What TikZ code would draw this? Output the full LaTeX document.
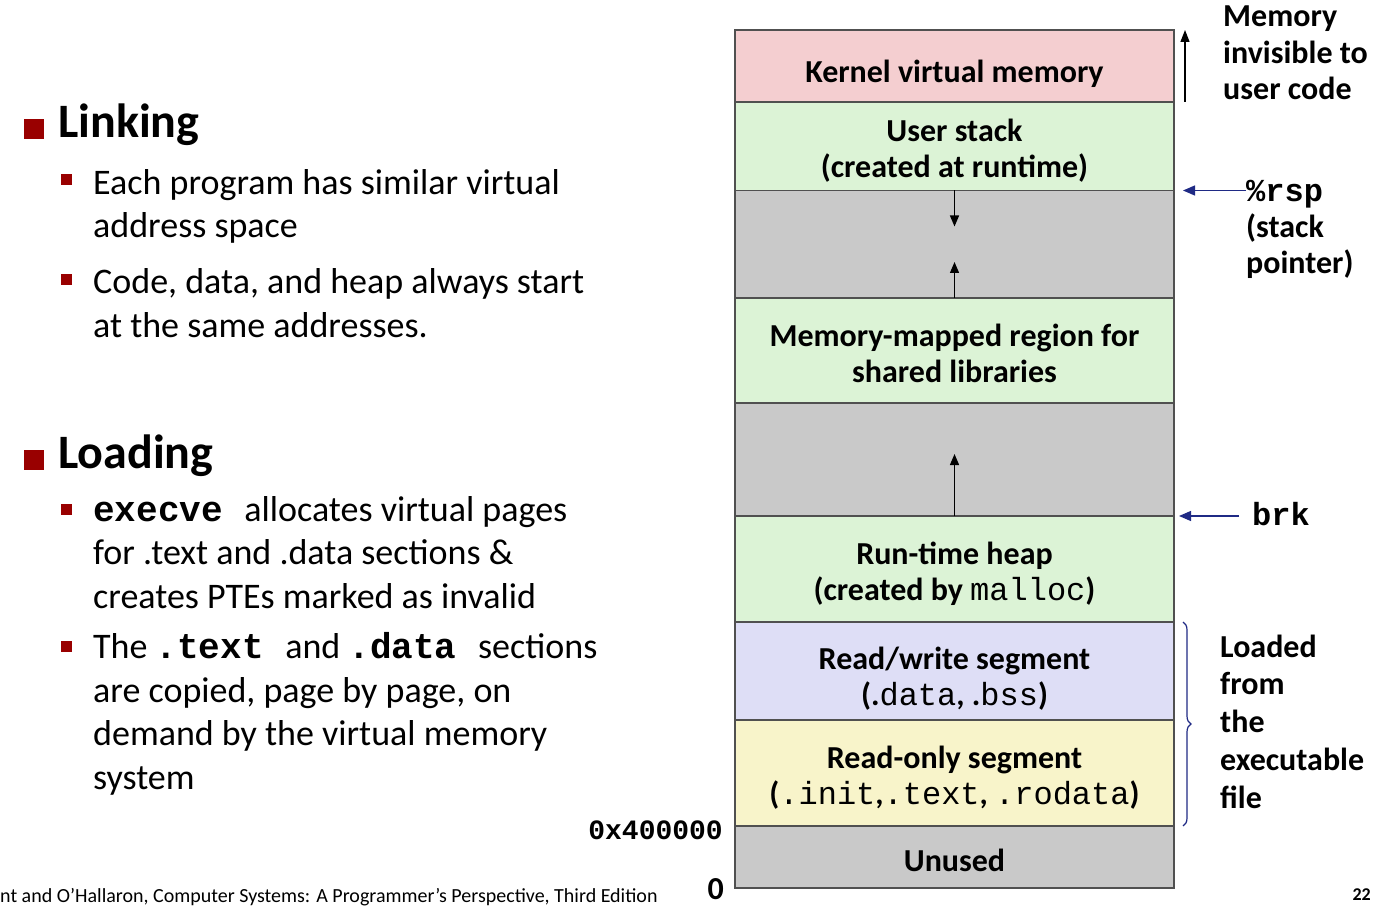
\documentclass[tikz,border=0pt]{standalone}
\usepackage{fontspec}
\setmainfont{Carlito}
\setmonofont{Liberation Mono}
\usetikzlibrary{positioning,arrows.meta,decorations.pathreplacing}

\definecolor{kernelpink}{HTML}{F4CED0}
\definecolor{regiongreen}{HTML}{DCF3D6}
\definecolor{gapgray}{HTML}{C9C9C9}
\definecolor{rwblue}{HTML}{DEDEF6}
\definecolor{royellow}{HTML}{F8F4CA}
\definecolor{bulletred}{HTML}{990000}
\definecolor{ptrblue}{HTML}{1F2A85}
\definecolor{segline}{HTML}{505050}

\newcommand{\boxcode}[1]{{\mdseries\ttfamily #1}}

\begin{document}
\begin{tikzpicture}[x=1pt, y=-1pt,
    seg/.style={draw=segline, line width=1.2pt, minimum width=439pt,
        inner sep=0pt, outer sep=0pt},
    segtext/.style={inner sep=0pt, align=center, anchor=base,
        font=\fontsize{32}{36}\selectfont\bfseries},
    growth/.style={black, line width=1.3pt, -{Triangle[length=11pt,width=9pt]}},
    ptr/.style={ptrblue, line width=1.2pt, -{Triangle[length=12pt,width=10pt]}},
    sidetext/.style={inner sep=0pt, align=left, font=\fontsize{32}{36.5}\selectfont\bfseries},
    headline/.style={inner sep=0pt, font=\fontsize{48}{56}\selectfont\bfseries},
    itemtext/.style={inner sep=0pt, align=left, font=\fontsize{36}{43.5}\selectfont}]

    \path[use as bounding box, fill=white] (0,0) rectangle (1381,909);

    % address space
    \node[seg, fill=kernelpink, minimum height=72pt, anchor=north] (kernel) at (954.5,30) {};
    \node[seg, fill=regiongreen, minimum height=88.5pt, below=0pt of kernel] (ustack) {};
    \node[seg, fill=gapgray, minimum height=107.5pt, below=0pt of ustack] (gapA) {};
    \node[seg, fill=regiongreen, minimum height=105pt, below=0pt of gapA] (mmap) {};
    \node[seg, fill=gapgray, minimum height=113pt, below=0pt of mmap] (gapB) {};
    \node[seg, fill=regiongreen, minimum height=106pt, below=0pt of gapB] (heap) {};
    \node[seg, fill=rwblue, minimum height=98pt, below=0pt of heap] (rwseg) {};
    \node[seg, fill=royellow, minimum height=106pt, below=0pt of rwseg] (roseg) {};
    \node[seg, fill=gapgray, minimum height=62pt, below=0pt of roseg] (unused) {};

    % labels (base anchor = last line)
    \node[segtext] (kerneltext) at (954.5,83) {Kernel virtual memory};
    \node[segtext] (ustacktext) at (954.5,178) {User stack\\(created at runtime)};
    \node[segtext] (mmaptext) at (954.5,382) {Memory-mapped region for\\shared libraries};
    \node[segtext] (heaptext) at (954.5,600) {Run-time heap\\(created by \boxcode{malloc})};
    \node[segtext] (rwtext) at (954.5,705) {Read/write segment\\(.\boxcode{data}, .\boxcode{bss})};
    \node[segtext] (rotext) at (954.5,804) {Read-only segment\\(\boxcode{.init},\boxcode{.text}, \boxcode{.rodata})};
    \node[segtext] (unusedtext) at (954.5,871) {Unused};

    % growth arrows
    \coordinate (stacktip) at ([yshift=-36pt]gapA.north);
    \coordinate (mmaptip) at ([yshift=36pt]gapA.south);
    \coordinate (heaptip) at ([yshift=62pt]gapB.south);
    \draw[growth] (gapA.north) -- (stacktip);
    \draw[growth] (gapA.south) -- (mmaptip);
    \draw[growth] (gapB.south) -- (heaptip);

    % addresses
    \node[inner sep=0pt, anchor=base east, font=\fontsize{28}{30}\selectfont\ttfamily\bfseries] (addr) at (723,839) {0x400000};
    \node[inner sep=0pt, anchor=base east, font=\fontsize{32}{34}\selectfont\bfseries] (zero) at (724,899) {0};

    % right side
    \node[sidetext, anchor=base west] (invisible) at (1223,100) {Memory\\invisible to\\user code};
    \draw[black, line width=1.2pt, -{Triangle[length=12pt,width=9pt]}] ([xshift=11pt]kernel.south east) -- ([xshift=11pt]kernel.north east);

    \node[sidetext, anchor=base west] (rsp) at (1246,274) {\texttt{\%rsp}\\(stack\\pointer)};
    \draw[ptr] (ustack.south east -| rsp.west) -- ([xshift=9pt]ustack.south east);

    \node[sidetext, anchor=base west] (brk) at (1252,525) {\texttt{brk}};
    \draw[ptr] ([xshift=-13pt]gapB.south east -| brk.west) -- ([xshift=5pt]gapB.south east);

    \draw[ptrblue, line width=1.2pt, decorate, decoration={brace, amplitude=8pt}]
        ([xshift=9pt]rwseg.north east) -- ([xshift=9pt]roseg.south east);
    \node[sidetext, anchor=base west, font=\fontsize{32}{37.7}\selectfont\bfseries] (loaded) at (1220,808) {Loaded\\from\\the\\executable\\file};

    % left column
    \fill[bulletred] (24,119) rectangle (44,139);
    \node[headline, anchor=base west] (linking) at (58,138) {Linking};
    \fill[bulletred] (61,174) rectangle (72,185);
    \node[itemtext, anchor=base west] (similar) at (93,238) {Each program has similar virtual\\address space};
    \fill[bulletred] (61,274) rectangle (72,285);
    \node[itemtext, anchor=base west] (sameaddr) at (93,337) {Code, data, and heap always start\\at the same addresses.};

    \fill[bulletred] (24,450) rectangle (44,470);
    \node[headline, anchor=base west] (loading) at (58,468) {Loading};
    \fill[bulletred] (61,504) rectangle (72,515);
    \node[itemtext, anchor=base west] (execve) at (93,608) {\texttt{\bfseries execve }allocates virtual pages\\for .text and .data sections \&\\creates PTEs marked as invalid};
    \fill[bulletred] (61,641) rectangle (72,652);
    \node[itemtext, anchor=base west] (copied) at (93,789) {The \texttt{\bfseries.text }and \texttt{\bfseries.data }sections\\are copied, page by page, on\\demand by the virtual memory\\system};

    % footer
    \node[inner sep=0pt, anchor=base west, font=\fontsize{20}{22}\selectfont] (footer) at (0,902) {nt and O’Hallaron, Computer Systems: A Programmer’s Perspective, Third Edition};
    \node[inner sep=0pt, anchor=base east, font=\fontsize{18}{20}\selectfont\bfseries] (pagenum) at (1371,900) {22};
\end{tikzpicture}
\end{document}
